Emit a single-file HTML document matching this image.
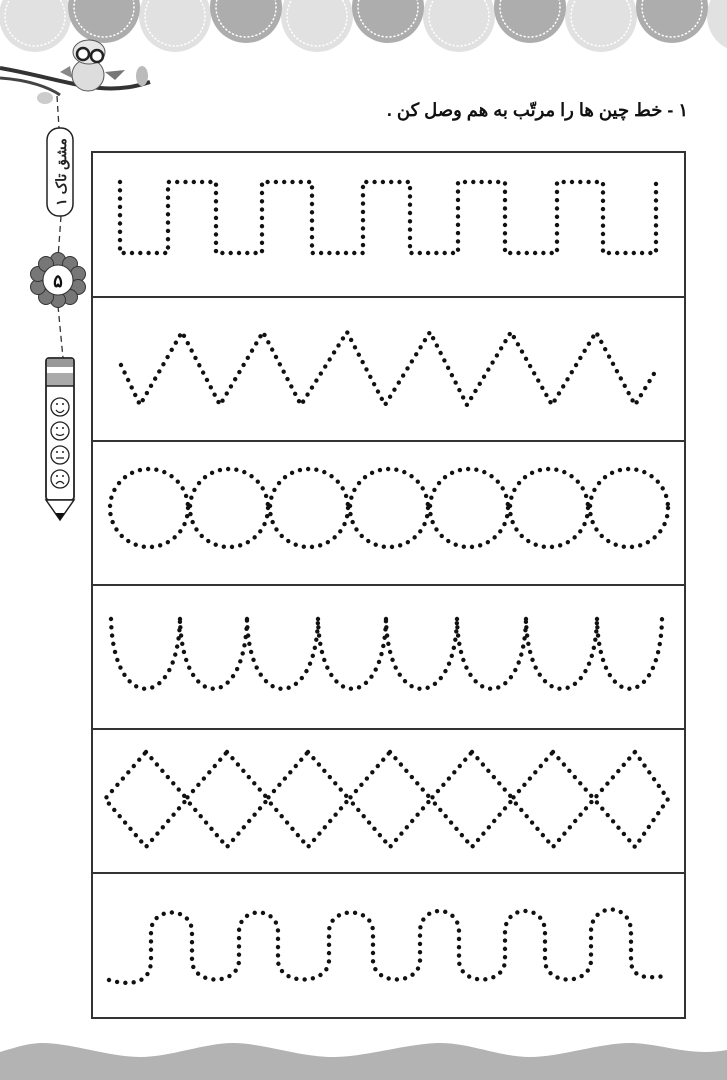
<!DOCTYPE html>
<html><head><meta charset="utf-8"><style>
html,body{margin:0;padding:0;background:#fff;}
svg{display:block}
</style></head><body>
<svg width="727" height="1080" viewBox="0 0 727 1080" xmlns="http://www.w3.org/2000/svg">
<rect width="727" height="1080" fill="#fff"/>
<g>
<circle cx="35" cy="16" r="36" fill="#e1e1e1"/>
<circle cx="175" cy="16" r="36" fill="#e1e1e1"/>
<circle cx="317" cy="16" r="36" fill="#e1e1e1"/>
<circle cx="459" cy="16" r="36" fill="#e1e1e1"/>
<circle cx="601" cy="16" r="36" fill="#e1e1e1"/>
<circle cx="743" cy="16" r="36" fill="#e1e1e1"/>
<circle cx="104" cy="7" r="36" fill="#adadad"/>
<circle cx="246" cy="7" r="36" fill="#adadad"/>
<circle cx="388" cy="7" r="36" fill="#adadad"/>
<circle cx="530" cy="7" r="36" fill="#adadad"/>
<circle cx="672" cy="7" r="36" fill="#adadad"/>
<g fill="none" stroke="#fff" stroke-width="1.5" stroke-dasharray="1 3" stroke-linecap="round">
<circle cx="35" cy="16" r="30"/><circle cx="175" cy="16" r="30"/><circle cx="317" cy="16" r="30"/><circle cx="459" cy="16" r="30"/><circle cx="601" cy="16" r="30"/>
<circle cx="104" cy="7" r="30"/><circle cx="246" cy="7" r="30"/><circle cx="388" cy="7" r="30"/><circle cx="530" cy="7" r="30"/><circle cx="672" cy="7" r="30"/>
</g>
</g>
<path d="M0,1052 C20,1046 30,1043 43,1043 C70,1043 110,1057 140,1057 C170,1057 205,1043 233,1043 C262,1043 300,1057 333,1057 C365,1057 410,1043 440,1043 C470,1043 500,1057 530,1057 C560,1057 600,1043 630,1043 C660,1043 690,1057 727,1050 V1080 H0 Z" fill="#b3b3b3"/>
<path d="M0,68 C40,75 70,85 100,88 C125,90 140,85 150,82" fill="none" stroke="#333" stroke-width="4"/>
<path d="M0,78 C30,80 50,88 60,95" fill="none" stroke="#444" stroke-width="3"/>
<ellipse cx="142" cy="76" rx="6" ry="10" fill="#bbb"/>
<ellipse cx="45" cy="98" rx="8" ry="6" fill="#ccc"/>
<ellipse cx="88" cy="75" rx="16" ry="16" fill="#ddd" stroke="#555"/>
<ellipse cx="89" cy="52" rx="16" ry="12" fill="#e6e6e6" stroke="#555"/>
<circle cx="83" cy="54" r="6" fill="#fff" stroke="#222" stroke-width="2.5"/>
<circle cx="97" cy="56" r="6" fill="#fff" stroke="#222" stroke-width="2.5"/>
<path d="M105,72 L125,70 L115,80 Z" fill="#777"/>
<path d="M60,72 L70,66 L72,78 Z" fill="#888"/>
<g fill="none" stroke="#333" stroke-width="1.3" stroke-dasharray="6 4">
<path d="M57,96 L59,128"/>
<path d="M61,216 L58,258"/>
<path d="M58,306 L63,358"/>
</g>
<rect x="47" y="128" width="26" height="88" rx="12" fill="#fff" stroke="#222" stroke-width="1.5"/>
<text x="0" y="0" transform="translate(66,172) rotate(-90)" text-anchor="middle" font-family="'Liberation Sans','Noto Sans CJK SC',sans-serif" font-weight="bold" font-size="14" fill="#222" direction="rtl">مشق تاک ١</text>
<g fill="#777" stroke="#333" stroke-width="1">
<circle cx="58" cy="260" r="7.5"/><circle cx="70" cy="264" r="7.5"/><circle cx="78" cy="274" r="7.5"/><circle cx="78" cy="287" r="7.5"/><circle cx="70" cy="297" r="7.5"/>
<circle cx="58" cy="300" r="7.5"/><circle cx="46" cy="297" r="7.5"/><circle cx="38" cy="287" r="7.5"/><circle cx="38" cy="274" r="7.5"/><circle cx="46" cy="264" r="7.5"/>
</g>
<circle cx="58" cy="280" r="15" fill="#fff" stroke="#333"/>
<text x="58" y="287" text-anchor="middle" font-family="'Liberation Sans','Noto Sans CJK SC',sans-serif" font-weight="bold" font-size="18" fill="#111">۵</text>
<rect x="46" y="358" width="28" height="142" rx="3" fill="#fff" stroke="#222" stroke-width="1.8"/>
<rect x="47" y="359" width="26" height="8" fill="#999"/>
<rect x="47" y="373" width="26" height="13" fill="#aaa"/>
<line x1="46" y1="386" x2="74" y2="386" stroke="#222" stroke-width="1.5"/>
<g fill="none" stroke="#222" stroke-width="1.3">
<circle cx="60" cy="407" r="9"/><circle cx="60" cy="431" r="9"/><circle cx="60" cy="455" r="9"/><circle cx="60" cy="479" r="9"/>
<path d="M56,410 Q60,415 64,410"/><path d="M56,434 Q60,437 64,434"/><line x1="56" y1="458" x2="64" y2="458"/><path d="M56,484 Q60,479 64,484"/>
</g>
<g fill="#222"><circle cx="57" cy="404" r="1"/><circle cx="63" cy="404" r="1"/><circle cx="57" cy="428" r="1"/><circle cx="63" cy="428" r="1"/><circle cx="57" cy="452" r="1"/><circle cx="63" cy="452" r="1"/><circle cx="57" cy="476" r="1"/><circle cx="63" cy="476" r="1"/></g>
<path d="M46,500 L74,500 L60,520 Z" fill="#fff" stroke="#222" stroke-width="1.5"/>
<path d="M55,513 L65,513 L60,520 Z" fill="#111"/>
<text x="688" y="116" text-anchor="start" direction="rtl" font-family="'Liberation Sans','Noto Sans CJK SC',sans-serif" font-weight="bold" font-size="18" fill="#111">١ - خط چین ها را مرتّب به هم وصل کن .</text>
<rect x="92" y="152" width="593" height="866" fill="none" stroke="#333" stroke-width="2"/>
<g stroke="#333" stroke-width="2">
<line x1="92" y1="297" x2="685" y2="297"/><line x1="92" y1="441" x2="685" y2="441"/><line x1="92" y1="585" x2="685" y2="585"/><line x1="92" y1="729" x2="685" y2="729"/><line x1="92" y1="873" x2="685" y2="873"/>
</g>
<g fill="none" stroke="#111" stroke-width="4.4" stroke-linecap="round" stroke-dasharray="0 8.3" stroke-linejoin="round">
<path d="M120,182 V253 H168 V182 H216 V253 H262 V182 H312 V253 H363 V182 H410 V253 H458 V182 H505 V253 H557 V182 H603 V253 H656 V182"/>
<path d="M121,365 L140,405 L182,332 L220,405 L263,332 L301,405 L347,332 L385,405 L430,332 L467,405 L511,332 L552,405 L596,332 L635,405 L655,372"/>
<circle cx="149" cy="508" r="39"/><circle cx="229" cy="508" r="39"/><circle cx="309" cy="508" r="39"/><circle cx="389" cy="508" r="39"/><circle cx="469" cy="508" r="39"/><circle cx="549" cy="508" r="39"/><circle cx="629" cy="508" r="39"/>
<path d="M111,619 C113,712 178,712 180,619"/>
<path d="M180,619 C182,712 245,712 247,619"/>
<path d="M247,619 C249,712 316,712 318,619"/>
<path d="M318,619 C320,712 384,712 386,619"/>
<path d="M386,619 C388,712 455,712 457,619"/>
<path d="M457,619 C459,712 524,712 526,619"/>
<path d="M526,619 C528,712 595,712 597,619"/>
<path d="M597,619 C599,712 660,712 662,619"/>
<path d="M146,752 L187,799 L146,847 L105,799 Z"/>
<path d="M227,752 L268,799 L227,847 L186,799 Z"/>
<path d="M308,752 L349,799 L308,847 L267,799 Z"/>
<path d="M390,752 L431,799 L390,847 L349,799 Z"/>
<path d="M472,752 L513,799 L472,847 L431,799 Z"/>
<path d="M553,752 L594,799 L553,847 L512,799 Z"/>
<path d="M635,752 L668,799 L635,847 L594,799 Z"/>
<path d="M109,980 C130,986 151,984 151,960 V932 C151,906 192,906 192,932 V960 C192,986 239,986 239,960 V932 C239,906 278,906 278,932 V960 C278,986 329,986 329,960 V932 C329,906 373,906 373,932 V960 C373,986 420,986 420,960 V932 C420,904 459,904 459,932 V960 C459,986 505,986 505,960 V932 C505,904 545,904 545,932 V960 C545,986 591,986 591,960 V932 C591,902 631,902 631,932 V960 C631,980 650,978 665,976"/>
</g>
</svg>
</body></html>
